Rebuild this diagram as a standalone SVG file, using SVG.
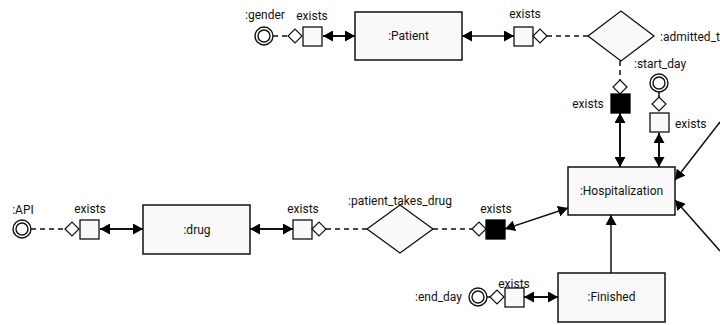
<svg xmlns="http://www.w3.org/2000/svg" width="720" height="325" viewBox="0 0 720 325">
<style>
text{font-family:Roboto,"Liberation Sans",sans-serif;font-size:12px;fill:#111}
.box{fill:#f9f9f9;stroke:#111;stroke-width:1.5}
.sq{fill:#f9f9f9;stroke:#111;stroke-width:1.3}
.bsq{fill:#000;stroke:#000;stroke-width:1.3}
.dm{fill:#fff;stroke:#111;stroke-width:1.2}
.big{fill:#f9f9f9;stroke:#111;stroke-width:1.3}
.oc{fill:#fff;stroke:#111;stroke-width:1.4}
.ln{stroke:#111;stroke-width:1.5;fill:none}
.th{stroke-width:2}
.bi{marker-start:url(#ah);marker-end:url(#ah)}
.one{marker-end:url(#ah)}
.ds{stroke:#111;stroke-width:1.5;fill:none;stroke-dasharray:5 4}
.c{text-anchor:middle}
</style>
<defs>
<marker id="ah" viewBox="0 0 10 11" refX="10" refY="5.5" markerWidth="10" markerHeight="11" markerUnits="userSpaceOnUse" orient="auto-start-reverse">
<path d="M0,0 L10,5.5 L0,11 z" fill="#000"/>
</marker>
</defs>
<g id="connectors">
<line class="ln th bi" x1="323" y1="36" x2="355" y2="36"/>
<line class="ln bi" x1="462" y1="36" x2="514" y2="36"/>
<line class="ds" x1="547" y1="36" x2="588" y2="36"/>
<line class="ds" x1="620" y1="61" x2="620" y2="80"/>
<line class="ln th bi" x1="620" y1="113" x2="620" y2="167"/>
<line class="ln th bi" x1="659" y1="133" x2="659" y2="167"/>
<line class="ln one" x1="720" y1="122" x2="675" y2="180"/>
<line class="ln one" x1="720" y1="251" x2="675" y2="200"/>
<line class="ln one" x1="611" y1="273" x2="611" y2="215"/>
<line class="ln th bi" x1="524" y1="297" x2="558" y2="297"/>
<line class="ln bi" x1="505" y1="229" x2="568" y2="208"/>
<line class="ds" x1="433" y1="229" x2="472" y2="229"/>
<line class="ds" x1="326" y1="229" x2="367" y2="229"/>
<line class="ln th bi" x1="293" y1="229" x2="250" y2="229"/>
<line class="ds" x1="31" y1="229" x2="65" y2="229"/>
<line class="ln th bi" x1="100" y1="229" x2="143" y2="229"/>
<line class="ds" x1="273" y1="36" x2="288" y2="36"/>
<line class="ln" x1="659" y1="92" x2="659" y2="97"/>
<line class="ln" x1="487" y1="297" x2="490" y2="297"/>
</g>
<g id="patient">
<rect class="box" x="355" y="12" width="107" height="48"/>
<text class="c" x="408.5" y="40">:Patient</text>
</g>
<g id="gender">
<circle class="oc" cx="264" cy="36" r="9"/>
<circle class="oc" cx="264" cy="36" r="6"/>
<text class="c" x="265" y="19">:gender</text>
</g>
<g id="gender-exists">
<path class="dm" d="M288,36 L295,29 L302,36 L295,43 z"/>
<rect class="sq" x="303" y="27" width="19" height="19"/>
<text class="c" x="312" y="20">exists</text>
</g>
<g id="admitted-exists">
<rect class="sq" x="514" y="27" width="19" height="19"/>
<path class="dm" d="M533,36 L540,29 L547,36 L540,43 z"/>
<text class="c" x="525" y="18">exists</text>
</g>
<g id="admitted">
<path class="big" d="M588,36 L621,11 L654,36 L621,61 z"/>
<text x="660" y="41">:admitted_t</text>
</g>
<g id="admitted-exists2">
<path class="dm" d="M620,80 L627,87 L620,94 L613,87 z"/>
<rect class="bsq" x="611" y="94" width="19" height="19"/>
<text class="c" x="588" y="108">exists</text>
</g>
<g id="start_day">
<circle class="oc" cx="659" cy="83" r="9"/>
<circle class="oc" cx="659" cy="83" r="6"/>
<text x="634" y="68">:start_day</text>
</g>
<g id="start-exists">
<path class="dm" d="M659,97 L666,104 L659,111 L652,104 z"/>
<rect class="sq" x="650" y="113" width="19" height="19"/>
<text x="675" y="128">exists</text>
</g>
<g id="hospitalization">
<rect class="box" x="568" y="167" width="107" height="48"/>
<text class="c" x="621.5" y="195">:Hospitalization</text>
</g>
<g id="finished">
<rect class="box" x="558" y="273" width="107" height="49"/>
<text class="c" x="611.5" y="301">:Finished</text>
</g>
<g id="end_day">
<circle class="oc" cx="478" cy="297" r="9"/>
<circle class="oc" cx="478" cy="297" r="6"/>
<text x="415" y="301">:end_day</text>
</g>
<g id="end-exists">
<path class="dm" d="M490,297 L497,290 L504,297 L497,304 z"/>
<rect class="sq" x="505" y="288" width="19" height="19"/>
<text class="c" x="514" y="288">exists</text>
</g>
<g id="ptd-exists2">
<path class="dm" d="M472,229 L479,222 L486,229 L479,236 z"/>
<rect class="bsq" x="486" y="220" width="19" height="19"/>
<text class="c" x="496" y="213">exists</text>
</g>
<g id="patient_takes_drug">
<path class="big" d="M367,229 L400,205 L433,229 L400,253 z"/>
<text class="c" x="400" y="205">:patient_takes_drug</text>
</g>
<g id="ptd-exists">
<rect class="sq" x="293" y="220" width="19" height="19"/>
<path class="dm" d="M312,229 L319,222 L326,229 L319,236 z"/>
<text class="c" x="303" y="213">exists</text>
</g>
<g id="drug">
<rect class="box" x="143" y="205" width="107" height="49"/>
<text class="c" x="197" y="234">:drug</text>
</g>
<g id="api">
<circle class="oc" cx="22" cy="229" r="9"/>
<circle class="oc" cx="22" cy="229" r="6"/>
<text class="c" x="23" y="214">:API</text>
</g>
<g id="api-exists">
<path class="dm" d="M65,229 L72,222 L79,229 L72,236 z"/>
<rect class="sq" x="80" y="220" width="19" height="19"/>
<text class="c" x="90" y="213">exists</text>
</g>
</svg>
